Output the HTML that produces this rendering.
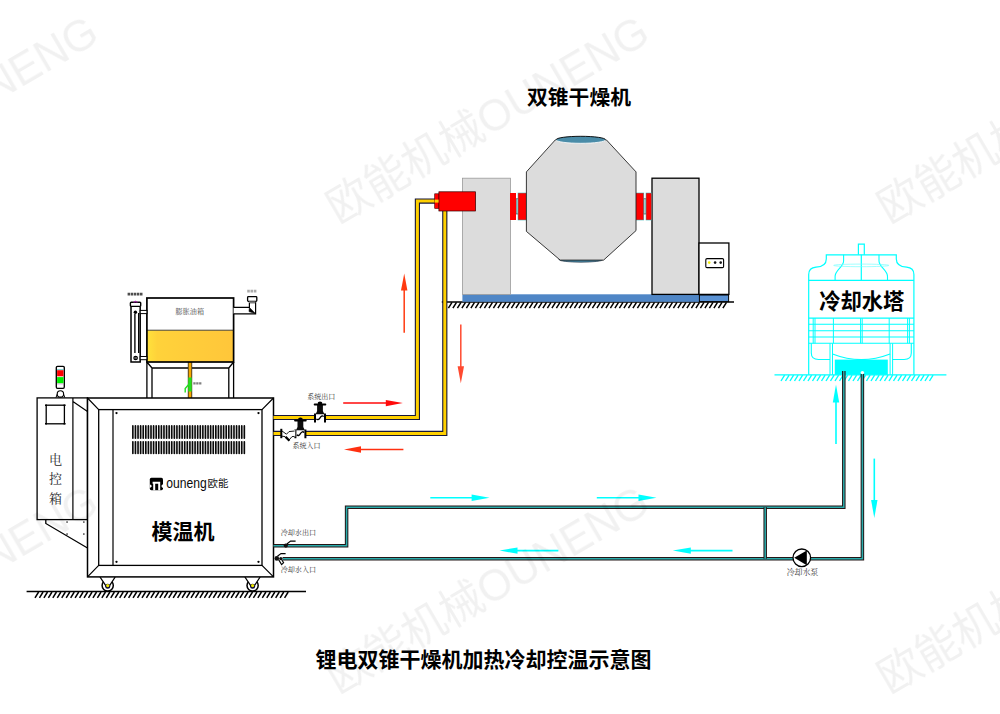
<!DOCTYPE html>
<html><head><meta charset="utf-8"><title>diagram</title>
<style>html,body{margin:0;padding:0;background:#fff;}body{width:1000px;height:714px;overflow:hidden;font-family:"Liberation Sans",sans-serif;}svg{display:block}</style>
</head><body>
<svg width="1000" height="714" viewBox="0 0 1000 714">
<defs>
<linearGradient id="oil" x1="0" y1="0" x2="1" y2="0"><stop offset="0" stop-color="#ffe23c"/><stop offset="0.12" stop-color="#ffd23a"/><stop offset="1" stop-color="#ffc63a"/></linearGradient>
</defs>
<rect width="1000" height="714" fill="#fff"/>
<path d="M26.6 591.5H306" stroke="#000" stroke-width="1.4" fill="none"/>
<path d="M38.60 592.00l-3.60 5.80M43.06 592.00l-3.60 5.80M47.51 592.00l-3.60 5.80M51.97 592.00l-3.60 5.80M56.43 592.00l-3.60 5.80M60.89 592.00l-3.60 5.80M65.34 592.00l-3.60 5.80M69.80 592.00l-3.60 5.80M74.26 592.00l-3.60 5.80M78.71 592.00l-3.60 5.80M83.17 592.00l-3.60 5.80M87.63 592.00l-3.60 5.80M92.08 592.00l-3.60 5.80M96.54 592.00l-3.60 5.80M101.00 592.00l-3.60 5.80M105.45 592.00l-3.60 5.80M109.91 592.00l-3.60 5.80M114.37 592.00l-3.60 5.80M118.83 592.00l-3.60 5.80M123.28 592.00l-3.60 5.80M127.74 592.00l-3.60 5.80M132.20 592.00l-3.60 5.80M136.65 592.00l-3.60 5.80M141.11 592.00l-3.60 5.80M145.57 592.00l-3.60 5.80M150.02 592.00l-3.60 5.80M154.48 592.00l-3.60 5.80M158.94 592.00l-3.60 5.80M163.40 592.00l-3.60 5.80M167.85 592.00l-3.60 5.80M172.31 592.00l-3.60 5.80M176.77 592.00l-3.60 5.80M181.22 592.00l-3.60 5.80M185.68 592.00l-3.60 5.80M190.14 592.00l-3.60 5.80M194.59 592.00l-3.60 5.80M199.05 592.00l-3.60 5.80M203.51 592.00l-3.60 5.80M207.97 592.00l-3.60 5.80M212.42 592.00l-3.60 5.80M216.88 592.00l-3.60 5.80M221.34 592.00l-3.60 5.80M225.79 592.00l-3.60 5.80M230.25 592.00l-3.60 5.80M234.71 592.00l-3.60 5.80M239.16 592.00l-3.60 5.80M243.62 592.00l-3.60 5.80M248.08 592.00l-3.60 5.80M252.54 592.00l-3.60 5.80M256.99 592.00l-3.60 5.80M261.45 592.00l-3.60 5.80M265.91 592.00l-3.60 5.80M270.36 592.00l-3.60 5.80M274.82 592.00l-3.60 5.80M279.28 592.00l-3.60 5.80M283.73 592.00l-3.60 5.80M288.19 592.00l-3.60 5.80" stroke="#000" stroke-width="1.5" fill="none"/>
<circle cx="107.7" cy="585.5" r="5.6" fill="#fff" stroke="#000" stroke-width="1.5"/>
<path d="M100.0 577L107.7 588.2L115.2 577Z" fill="#fff"/>
<path d="M100.0 577L107.1 587.6M115.2 577L108.3 587.6" stroke="#000" stroke-width="1.3" fill="none"/>
<circle cx="107.7" cy="586.2" r="2.5" fill="#0c0c3c"/>
<circle cx="107.7" cy="585.6" r="1.6" fill="#f0e800"/>
<circle cx="252.6" cy="585.5" r="5.6" fill="#fff" stroke="#000" stroke-width="1.5"/>
<path d="M244.9 577L252.6 588.2L260.1 577Z" fill="#fff"/>
<path d="M244.9 577L252.0 587.6M260.1 577L253.2 587.6" stroke="#000" stroke-width="1.3" fill="none"/>
<circle cx="252.6" cy="586.2" r="2.5" fill="#0c0c3c"/>
<circle cx="252.6" cy="585.6" r="1.6" fill="#f0e800"/>
<path d="M146.9 362V398M233.6 362V398M152 368V398M228.8 368V398M152 368H228.8M146.9 362L152 368M233.6 362L228.8 368" stroke="#000" stroke-width="1.3" fill="none"/>
<path d="M190 362V398" stroke="#2a2a2a" stroke-width="4.4" fill="none"/>
<path d="M190 362V398" stroke="#f5a800" stroke-width="2.8" fill="none"/>
<path d="M190 377.5V391.5" stroke="#22e022" stroke-width="3.4" fill="none"/>
<path d="M189.5 383.5L185.2 388.5V392.5" stroke="#22e022" stroke-width="1.4" fill="none"/>
<path d="M193.3 383.4H202" stroke="#555" stroke-width="2.4" stroke-dasharray="2.3 0.6" fill="none" opacity="0.75"/>
<rect x="146.9" y="298" width="86.7" height="64" fill="#fff"/>
<rect x="146.9" y="330.2" width="86.7" height="31.8" fill="url(#oil)"/>
<path d="M146.9 330.2H233.6" stroke="#333" stroke-width="0.9" fill="none"/>
<rect x="146.9" y="298" width="86.7" height="64" fill="none" stroke="#000" stroke-width="1.7"/>
<path d="M131 306.4V362H140.2V306.4" stroke="#000" stroke-width="1.5" fill="#fff"/>
<rect x="130.4" y="302.3" width="10.3" height="4.1" rx="0.8" fill="#fff" stroke="#000" stroke-width="1.4"/>
<path d="M133.6 302.2Q135.5 300.3 137.4 302.2" stroke="#a020a0" stroke-width="0.9" fill="#a020a0"/>
<path d="M134.9 314V353M138.7 313V353" stroke="#000" stroke-width="1.35" fill="none"/>
<circle cx="135.4" cy="312.2" r="1.7" fill="#000"/>
<circle cx="135.6" cy="358" r="1.7" fill="#fff" stroke="#000" stroke-width="1.3"/><circle cx="135.6" cy="358" r="0.7" fill="#000"/>
<rect x="140.2" y="310.4" width="6.7" height="3.2" fill="#fff" stroke="#000" stroke-width="1"/>
<rect x="140.2" y="356.5" width="6.7" height="3.2" fill="#fff" stroke="#000" stroke-width="1"/>
<path d="M127.6 294.1H142.8" stroke="#222" stroke-width="2.6" stroke-dasharray="2.5 0.6" fill="none" opacity="0.8"/>
<path d="M233.6 307.4H249.4V302.6H255.6V313.8H233.6" stroke="#000" stroke-width="1.2" fill="#fff"/>
<rect x="247.6" y="296.6" width="9.2" height="4.8" rx="0.8" fill="#fff" stroke="#000" stroke-width="1.3"/>
<rect x="249" y="301.4" width="6.4" height="1.4" fill="#999"/>
<path d="M249.4 307.4L255.4 313.6L249 311.6Z" fill="#000" stroke="#000" stroke-width="0.6"/>
<path d="M247.2 291.1H257" stroke="#555" stroke-width="2.6" stroke-dasharray="2.6 0.7" fill="none" opacity="0.5"/>
<rect x="37.1" y="397.9" width="50.4" height="121.7" fill="#fff" stroke="#000" stroke-width="1.3"/>
<path d="M72.9 397.9V519.6M72.9 401.6L87.5 411.5" stroke="#000" stroke-width="1.2" fill="none"/>
<rect x="46.2" y="405.2" width="18.2" height="18.6" fill="none" stroke="#000" stroke-width="1.3"/>
<path d="M45 405.2H47M63.5 405.2H65.6M45 423.8H47M63.5 423.8H65.6" stroke="#000" stroke-width="1.6" fill="none"/>
<path d="M45.8 519.6V523.5L87.5 548" stroke="#000" stroke-width="1.3" fill="none"/>
<rect x="66.4" y="521.4" width="1.3" height="1.3" fill="#000"/>
<rect x="83.2" y="521.4" width="1.3" height="1.3" fill="#000"/>
<rect x="66.4" y="533.4" width="1.3" height="1.3" fill="#000"/>
<rect x="83.2" y="533.4" width="1.3" height="1.3" fill="#000"/>
<path d="M57.6 393.2L56 397.5M63.2 393.2L64.8 397.5" stroke="#000" stroke-width="1" fill="none"/>
<circle cx="60.4" cy="393.9" r="3.2" fill="#fff" stroke="#000" stroke-width="1.1"/>
<rect x="56.3" y="366.3" width="8" height="22" rx="1.2" fill="#fff" stroke="#000" stroke-width="1.35"/>
<rect x="57.1" y="370.2" width="6.4" height="6.1" fill="#ff0000"/>
<rect x="57.1" y="377.1" width="6.4" height="6.2" fill="#00f000"/>
<path d="M57 369.6H63.6" stroke="#2aa" stroke-width="0.6" fill="none"/>
<path d="M57 384H63.6" stroke="#c6c" stroke-width="0.5" fill="none"/>
<rect x="87.5" y="398" width="186" height="178.9" fill="#fff" stroke="#000" stroke-width="1.5"/>
<rect x="98.7" y="409.6" width="163.3" height="155.8" fill="#fff" stroke="#000" stroke-width="1.3"/>
<path d="M87.5 398L98.7 409.6M273.5 398L262 409.6M87.5 576.9L98.7 565.4M273.5 576.9L262 565.4M113 409.6V565.4" stroke="#000" stroke-width="1.2" fill="none"/>
<circle cx="116.5" cy="413.1" r="1.15" fill="#000"/>
<circle cx="258.5" cy="413.1" r="1.15" fill="#000"/>
<circle cx="116.5" cy="561.8" r="1.15" fill="#000"/>
<circle cx="258.5" cy="561.8" r="1.15" fill="#000"/>
<path d="M132.85 425.9V438.2M132.85 441.7V453.4M135.44 425.9V438.2M135.44 441.7V453.4M138.04 425.9V438.2M138.04 441.7V453.4M140.63 425.9V438.2M140.63 441.7V453.4M143.22 425.9V438.2M143.22 441.7V453.4M145.82 425.9V438.2M145.82 441.7V453.4M148.41 425.9V438.2M148.41 441.7V453.4M151.00 425.9V438.2M151.00 441.7V453.4M153.59 425.9V438.2M153.59 441.7V453.4M156.19 425.9V438.2M156.19 441.7V453.4M158.78 425.9V438.2M158.78 441.7V453.4M161.37 425.9V438.2M161.37 441.7V453.4M163.97 425.9V438.2M163.97 441.7V453.4M166.56 425.9V438.2M166.56 441.7V453.4M169.15 425.9V438.2M169.15 441.7V453.4M171.75 425.9V438.2M171.75 441.7V453.4M174.34 425.9V438.2M174.34 441.7V453.4M176.93 425.9V438.2M176.93 441.7V453.4M179.52 425.9V438.2M179.52 441.7V453.4M182.12 425.9V438.2M182.12 441.7V453.4M184.71 425.9V438.2M184.71 441.7V453.4M187.30 425.9V438.2M187.30 441.7V453.4M189.90 425.9V438.2M189.90 441.7V453.4M192.49 425.9V438.2M192.49 441.7V453.4M195.08 425.9V438.2M195.08 441.7V453.4M197.68 425.9V438.2M197.68 441.7V453.4M200.27 425.9V438.2M200.27 441.7V453.4M202.86 425.9V438.2M202.86 441.7V453.4M205.45 425.9V438.2M205.45 441.7V453.4M208.05 425.9V438.2M208.05 441.7V453.4M210.64 425.9V438.2M210.64 441.7V453.4M213.23 425.9V438.2M213.23 441.7V453.4M215.83 425.9V438.2M215.83 441.7V453.4M218.42 425.9V438.2M218.42 441.7V453.4M221.01 425.9V438.2M221.01 441.7V453.4M223.61 425.9V438.2M223.61 441.7V453.4M226.20 425.9V438.2M226.20 441.7V453.4M228.79 425.9V438.2M228.79 441.7V453.4M231.38 425.9V438.2M231.38 441.7V453.4M233.98 425.9V438.2M233.98 441.7V453.4M236.57 425.9V438.2M236.57 441.7V453.4M239.16 425.9V438.2M239.16 441.7V453.4M241.76 425.9V438.2M241.76 441.7V453.4M244.35 425.9V438.2M244.35 441.7V453.4" stroke="#0a0a0a" stroke-width="1.6" stroke-linecap="round" fill="none"/>
<rect x="132" y="425.4" width="113.2" height="13.4" fill="#000" opacity="0.07"/>
<rect x="132" y="441.2" width="113.2" height="12.8" fill="#000" opacity="0.07"/>
<rect x="149.8" y="477.8" width="13.2" height="12.4" rx="1.6" fill="#000"/>
<path d="M152.6 481.8H160.2V490.2H158.2V483.8H155.2V490.2H153.2V483.8H152.6ZM149.8 484.2L151.6 485.4V486.8L149.8 488ZM163 484.2L161.6 485.2V487L163 488Z" fill="#fff"/>
<text x="166.3" y="487.7" font-size="14.5" fill="#0a0a0a" textLength="40.5" lengthAdjust="spacingAndGlyphs" style="font-family:'Liberation Sans',sans-serif;">ouneng</text>
<text x="207.6" y="487" font-size="10.4" fill="#111" style="font-family:'Liberation Sans','Noto Sans CJK SC',sans-serif;">欧能</text>
<text x="183.1" y="538.6" font-size="21" font-weight="bold" text-anchor="middle" fill="#000" style="font-family:'Liberation Sans','Noto Sans CJK SC',sans-serif;">模温机</text>
<text x="55.4" y="463.8" font-size="13" text-anchor="middle" fill="#2a2a2a" style="font-family:'Liberation Serif','Noto Serif CJK SC',serif;">电</text>
<text x="55.4" y="483.4" font-size="13" text-anchor="middle" fill="#2a2a2a" style="font-family:'Liberation Serif','Noto Serif CJK SC',serif;">控</text>
<text x="55.4" y="502.8" font-size="13" text-anchor="middle" fill="#2a2a2a" style="font-family:'Liberation Serif','Noto Serif CJK SC',serif;">箱</text>
<text x="189.8" y="314.4" font-size="7.1" text-anchor="middle" fill="#444" style="font-family:'Liberation Serif','Noto Serif CJK SC',serif;">膨胀油箱</text>
<path d="M441.8 302H734" stroke="#000" stroke-width="1.4" fill="none"/>
<path d="M452.00 302.40l-3.60 5.80M456.50 302.40l-3.60 5.80M461.00 302.40l-3.60 5.80M465.50 302.40l-3.60 5.80M470.00 302.40l-3.60 5.80M474.50 302.40l-3.60 5.80M479.00 302.40l-3.60 5.80M483.50 302.40l-3.60 5.80M488.00 302.40l-3.60 5.80M492.50 302.40l-3.60 5.80M497.00 302.40l-3.60 5.80M501.50 302.40l-3.60 5.80M506.00 302.40l-3.60 5.80M510.50 302.40l-3.60 5.80M515.00 302.40l-3.60 5.80M519.50 302.40l-3.60 5.80M524.00 302.40l-3.60 5.80M528.50 302.40l-3.60 5.80M533.00 302.40l-3.60 5.80M537.50 302.40l-3.60 5.80M542.00 302.40l-3.60 5.80M546.50 302.40l-3.60 5.80M551.00 302.40l-3.60 5.80M555.50 302.40l-3.60 5.80M560.00 302.40l-3.60 5.80M564.50 302.40l-3.60 5.80M569.00 302.40l-3.60 5.80M573.50 302.40l-3.60 5.80M578.00 302.40l-3.60 5.80M582.50 302.40l-3.60 5.80M587.00 302.40l-3.60 5.80M591.50 302.40l-3.60 5.80M596.00 302.40l-3.60 5.80M600.50 302.40l-3.60 5.80M605.00 302.40l-3.60 5.80M609.50 302.40l-3.60 5.80M614.00 302.40l-3.60 5.80M618.50 302.40l-3.60 5.80M623.00 302.40l-3.60 5.80M627.50 302.40l-3.60 5.80M632.00 302.40l-3.60 5.80M636.50 302.40l-3.60 5.80M641.00 302.40l-3.60 5.80M645.50 302.40l-3.60 5.80M650.00 302.40l-3.60 5.80M654.50 302.40l-3.60 5.80M659.00 302.40l-3.60 5.80M663.50 302.40l-3.60 5.80M668.00 302.40l-3.60 5.80M672.50 302.40l-3.60 5.80M677.00 302.40l-3.60 5.80M681.50 302.40l-3.60 5.80M686.00 302.40l-3.60 5.80M690.50 302.40l-3.60 5.80M695.00 302.40l-3.60 5.80M699.50 302.40l-3.60 5.80M704.00 302.40l-3.60 5.80M708.50 302.40l-3.60 5.80M713.00 302.40l-3.60 5.80M717.50 302.40l-3.60 5.80M722.00 302.40l-3.60 5.80M726.50 302.40l-3.60 5.80" stroke="#000" stroke-width="1.5" fill="none"/>
<path d="M273.5 417.5H417.4V201.1H436" stroke="#16163a" stroke-width="5.2" fill="none" stroke-linejoin="miter"/>
<path d="M273.5 417.5H417.4V201.1H436" stroke="#ffd000" stroke-width="3.0" fill="none" stroke-linejoin="miter"/>
<path d="M273.5 433.4H444.8V210" stroke="#16163a" stroke-width="5.2" fill="none" stroke-linejoin="miter"/>
<path d="M273.5 433.4H444.8V210" stroke="#ffd000" stroke-width="3.0" fill="none" stroke-linejoin="miter"/>
<rect x="315.0" y="414.3" width="10.0" height="6.6" fill="#fff"/>
<path d="M315.0 413.5V422.4M325.0 413.5V422.4" stroke="#000" stroke-width="2.0" fill="none"/>
<path d="M316.4 418.9C317.8 420.5 319.2 419.1 320.0 417.8S322.4 414.9 323.6 416.7" stroke="#000" stroke-width="1.3" fill="none"/>
<path d="M317.1 405.1H322.9V411.1L324.4 414.3H315.6L317.1 411.1Z" fill="#0c0c0c"/>
<rect x="313.7" y="403.6" width="12.6" height="1.9" rx="0.9" fill="#000"/>
<ellipse cx="320.0" cy="403.1" rx="2.3" ry="1.5" fill="#000"/>
<rect x="295.4" y="430.2" width="10.0" height="6.6" fill="#fff"/>
<path d="M295.4 429.4V438.3M305.4 429.4V438.3" stroke="#000" stroke-width="2.0" fill="none"/>
<path d="M296.8 434.8C298.2 436.4 299.6 435.0 300.4 433.7S302.8 430.8 304.0 432.6" stroke="#000" stroke-width="1.3" fill="none"/>
<path d="M297.5 421.0H303.3V427.0L304.8 430.2H296.0L297.5 427.0Z" fill="#0c0c0c"/>
<rect x="294.1" y="419.5" width="12.6" height="1.9" rx="0.9" fill="#000"/>
<ellipse cx="300.4" cy="419.0" rx="2.3" ry="1.5" fill="#000"/>
<rect x="281.3" y="430" width="14" height="6.8" fill="#fff"/>
<path d="M281.3 428.8V438.2" stroke="#000" stroke-width="2.0" fill="none"/>
<path d="M282 431L286.5 434.2L289 431.6L294.6 431M282 436.2L285 436.6L288.6 440.6L292 436.6L294.6 436.4" stroke="#000" stroke-width="0.9" fill="none"/>
<path d="M284.6 437.4L288.6 441.6L290.2 440L286.4 436Z" fill="#000"/>
<text x="307.3" y="398.7" font-size="7" fill="#333" style="font-family:'Liberation Serif','Noto Serif CJK SC',serif;">系统出口</text>
<text x="292.5" y="447.7" font-size="7" fill="#333" style="font-family:'Liberation Serif','Noto Serif CJK SC',serif;">系统入口</text>
<path d="M343.2 403.1L387.8 403.1" stroke="#ff0a0a" stroke-width="1.5" fill="none"/>
<path d="M402.8 403.1L385.8 406.3L385.8 399.9Z" fill="#ff0a0a"/>
<path d="M403.4 449.5L359.0 449.5" stroke="#ff3010" stroke-width="1.5" fill="none"/>
<path d="M344.0 449.5L361.0 446.3L361.0 452.7Z" fill="#ff3010"/>
<path d="M404.2 332.8L404.2 288.4" stroke="#ff3a10" stroke-width="1.5" fill="none"/>
<path d="M404.2 273.4L407.4 290.4L401.0 290.4Z" fill="#ff3a10"/>
<path d="M460.8 324.4L460.8 368.2" stroke="#ff4a30" stroke-width="1.5" fill="none"/>
<path d="M460.8 383.2L457.6 366.2L464.0 366.2Z" fill="#ff4a30"/>
<rect x="462.4" y="294.3" width="236.6" height="7.5" fill="#4f86c6"/>
<rect x="699.4" y="295" width="29.2" height="6.6" fill="#5a92d4" stroke="#000" stroke-width="1"/>
<rect x="462.4" y="178.2" width="48" height="116.2" fill="#dcdcdc" stroke="#9a9a9a" stroke-width="0.8"/>
<rect x="652" y="178.2" width="47" height="116.2" fill="#dcdcdc" stroke="#000" stroke-width="1.3"/>
<rect x="699" y="243" width="29.9" height="51.4" fill="#fff" stroke="#000" stroke-width="1.3"/>
<rect x="705.8" y="258.6" width="17.8" height="9" rx="1.2" fill="#fff" stroke="#000" stroke-width="1.1"/>
<circle cx="709.2" cy="262.6" r="1.3" fill="#f2ee00"/>
<circle cx="715.1" cy="262.6" r="1.3" fill="#111"/>
<circle cx="720.7" cy="262.6" r="1.3" fill="#111"/>
<rect x="516" y="198.8" width="2.4" height="15.2" fill="#a8d0d0" stroke="#333" stroke-width="0.6"/>
<rect x="510" y="193" width="6" height="27" fill="#ff0000"/>
<rect x="518" y="193" width="8.6" height="27" fill="#ff0000" stroke="#2aa" stroke-width="0.5"/>
<rect x="643.6" y="198.8" width="2.6" height="15.2" fill="#a8d0d0" stroke="#333" stroke-width="0.6"/>
<rect x="635.6" y="193" width="8.2" height="27" fill="#ff0000" stroke="#2aa" stroke-width="0.5"/>
<rect x="646" y="193" width="5.8" height="27" fill="#ff0000" stroke="#2aa" stroke-width="0.5"/>
<ellipse cx="581" cy="259.6" rx="22" ry="2.6" fill="#4a8aa6" stroke="#123" stroke-width="0.6"/>
<path d="M555.3 139.9H606.4L636 171.9V230.6L603.6 260.1H560.2L526.4 231.4V171.9Z" fill="#dcdcdc" stroke="#222" stroke-width="0.9"/>
<ellipse cx="580.8" cy="139.8" rx="24.8" ry="3.5" fill="#4a8ca8"/>
<path d="M556 139.8A24.8 3.5 0 0 1 605.6 139.8" stroke="#000" stroke-width="0.9" fill="none"/>
<path d="M556 139.8A24.8 3.5 0 0 0 605.6 139.8" stroke="#fff" stroke-width="0.8" fill="none"/>
<rect x="434.7" y="193.8" width="4.4" height="14.7" fill="#ff0000" stroke="#400" stroke-width="0.6"/>
<rect x="438.9" y="191.8" width="36.7" height="19.2" fill="#ff0000" stroke="#300" stroke-width="0.7"/>
<path d="M434.6 201.1H438.6" stroke="#ffd000" stroke-width="3" fill="none"/>
<text x="579" y="105.4" font-size="20.8" font-weight="bold" text-anchor="middle" fill="#000" style="font-family:'Liberation Sans','Noto Sans CJK SC',sans-serif;">双锥干燥机</text>
<path d="M774.5 374.8H946.4" stroke="#00ffff" stroke-width="1.3" fill="none"/>
<path d="M784.60 375.20l-3.60 5.80M789.10 375.20l-3.60 5.80M793.60 375.20l-3.60 5.80M798.10 375.20l-3.60 5.80M802.60 375.20l-3.60 5.80M807.10 375.20l-3.60 5.80M811.60 375.20l-3.60 5.80M816.10 375.20l-3.60 5.80M820.60 375.20l-3.60 5.80M825.10 375.20l-3.60 5.80M829.60 375.20l-3.60 5.80M834.10 375.20l-3.60 5.80M838.60 375.20l-3.60 5.80M843.10 375.20l-3.60 5.80M847.60 375.20l-3.60 5.80M852.10 375.20l-3.60 5.80M856.60 375.20l-3.60 5.80M861.10 375.20l-3.60 5.80M865.60 375.20l-3.60 5.80M870.10 375.20l-3.60 5.80M874.60 375.20l-3.60 5.80M879.10 375.20l-3.60 5.80M883.60 375.20l-3.60 5.80M888.10 375.20l-3.60 5.80M892.60 375.20l-3.60 5.80M897.10 375.20l-3.60 5.80M901.60 375.20l-3.60 5.80M906.10 375.20l-3.60 5.80M910.60 375.20l-3.60 5.80M915.10 375.20l-3.60 5.80M919.60 375.20l-3.60 5.80M924.10 375.20l-3.60 5.80M928.60 375.20l-3.60 5.80M933.10 375.20l-3.60 5.80" stroke="#00ffff" stroke-width="1.4" fill="none"/>
<path d="M808.7 374.8V274.5C808.7 270 812 267.6 816 267.2C822 266.8 826.3 264 826.3 259V254.8H896.3V259C896.3 264 900.6 266.8 906.6 267.2C910.6 267.6 913.9 270 913.9 274.5V374.8" stroke="#00ffff" stroke-width="1.2" fill="none"/>
<path d="M808.7 280.4H913.9" stroke="#00ffff" stroke-width="1.3" fill="none"/>
<path d="M858.4 254.8V244.2H864.3V254.8M861.3 254.8V280.4" stroke="#00ffff" stroke-width="1.2" fill="none"/>
<path d="M843.6 254.8V261C843.6 267 835.1 270 835.1 276.5V280.4M879.0 254.8V261C879.0 267 887.5 270 887.5 276.5V280.4" stroke="#00ffff" stroke-width="1.1" fill="none"/>
<ellipse cx="861.3" cy="265.4" rx="27.6" ry="1.3" fill="none" stroke="#7ff" stroke-width="0.7"/>
<path d="M808.7 318.1H913.9M808.7 324.2H913.9M808.7 330.7H913.9M808.7 337H913.9M808.7 343.3H913.9" stroke="#00ffff" stroke-width="1.1" fill="none"/>
<path d="M813.2 318.1V343.3M909.4 318.1V343.3M833.4 318.1V343.3M889.2 318.1V343.3M860.6 318.1V343.3M862.2 318.1V343.3M815 318.1V343.3M907.6 318.1V343.3" stroke="#00ffff" stroke-width="1.0" fill="none"/>
<path d="M811.3 343.3V353C811.3 357.2 814 359.5 818.5 359.5H830M911.3 343.3V353C911.3 357.2 908.6 359.5 904.1 359.5H892.6" stroke="#00ffff" stroke-width="1.1" fill="none"/>
<path d="M830 343.3V374.8M832.5 343.3V374.8M892.6 343.3V374.8M890.1 343.3V374.8" stroke="#00ffff" stroke-width="1.0" fill="none"/>
<rect x="834.8" y="359.6" width="53" height="15.2" fill="#00ffff"/>
<path d="M832.5 354Q861.3 365.2 890.1 354" stroke="#00ffff" stroke-width="1.2" fill="none"/>
<text x="861.8" y="309" font-size="21.3" font-weight="bold" text-anchor="middle" fill="#000" style="font-family:'Liberation Sans','Noto Sans CJK SC',sans-serif;">冷却水塔</text>
<path d="M273.5 545.8H346.6V507.2H843.8V371" stroke="#241616" stroke-width="3.5" fill="none" stroke-linejoin="miter"/>
<path d="M273.5 545.8H346.6V507.2H843.8V371" stroke="#2aacac" stroke-width="1.5" fill="none" stroke-linejoin="miter"/>
<path d="M282.6 558.7H862.4V374" stroke="#241616" stroke-width="3.5" fill="none" stroke-linejoin="miter"/>
<path d="M282.6 558.7H862.4V374" stroke="#2aacac" stroke-width="1.5" fill="none" stroke-linejoin="miter"/>
<path d="M765.2 507.2V558.7" stroke="#241616" stroke-width="3.5" fill="none" stroke-linejoin="miter"/>
<path d="M765.2 507.2V558.7" stroke="#2aacac" stroke-width="1.5" fill="none" stroke-linejoin="miter"/>
<circle cx="862.4" cy="372.6" r="1.7" fill="#fff"/>
<circle cx="801.8" cy="557.8" r="8.8" fill="#fff" stroke="#000" stroke-width="1.3"/>
<path d="M794.2 557.8L806.8 550.4V565.2Z" fill="#000"/>
<text x="786.7" y="575.2" font-size="7.9" fill="#333" style="font-family:'Liberation Serif','Noto Serif CJK SC',serif;">冷却水泵</text>
<circle cx="285.8" cy="545.6" r="2.1" fill="#111"/>
<path d="M286.8 544L290.6 541.1H295.6" stroke="#000" stroke-width="1.1" fill="none"/>
<circle cx="276.8" cy="558.4" r="2.3" fill="#111"/>
<path d="M277.4 556.2L281 553.6H285.6M278.6 559.6L281.6 564.6L283.6 562.6L281.4 559.2" stroke="#000" stroke-width="1.1" fill="none"/>
<circle cx="280.8" cy="558.6" r="1.6" fill="#111"/>
<text x="280.7" y="535.3" font-size="7.1" fill="#333" style="font-family:'Liberation Serif','Noto Serif CJK SC',serif;">冷却水出口</text>
<text x="280.7" y="572.3" font-size="7.1" fill="#333" style="font-family:'Liberation Serif','Noto Serif CJK SC',serif;">冷却水入口</text>
<path d="M430.3 497.7L473.6 497.7" stroke="#00ffff" stroke-width="1.6" fill="none"/>
<path d="M489.6 497.7L471.6 500.9L471.6 494.5Z" fill="#00ffff"/>
<path d="M596.8 497.7L640.5 497.7" stroke="#00ffff" stroke-width="1.6" fill="none"/>
<path d="M656.5 497.7L638.5 500.9L638.5 494.5Z" fill="#00ffff"/>
<path d="M558.4 550.6L515.5 550.6" stroke="#00ffff" stroke-width="1.6" fill="none"/>
<path d="M499.5 550.6L517.5 547.4L517.5 553.8Z" fill="#00ffff"/>
<path d="M732.5 550.6L688.8 550.6" stroke="#00ffff" stroke-width="1.6" fill="none"/>
<path d="M672.8 550.6L690.8 547.4L690.8 553.8Z" fill="#00ffff"/>
<path d="M836.0 444.0L836.0 400.5" stroke="#00ffff" stroke-width="1.6" fill="none"/>
<path d="M836.0 384.5L839.2 402.5L832.8 402.5Z" fill="#00ffff"/>
<path d="M874.3 458.6L874.3 502.0" stroke="#00ffff" stroke-width="1.6" fill="none"/>
<path d="M874.3 518.0L871.1 500.0L877.5 500.0Z" fill="#00ffff"/>
<text x="483.5" y="667" font-size="21" font-weight="bold" text-anchor="middle" fill="#000" style="font-family:'Liberation Sans','Noto Sans CJK SC',sans-serif;">锂电双锥干燥机加热冷却控温示意图</text>
<g fill="#000" opacity="0.058" font-size="44" style="font-family:'Liberation Sans','Noto Sans CJK SC',sans-serif;">
<text transform="translate(-213.7 224.7) rotate(-30.3)" x="1" y="0" textLength="364" lengthAdjust="spacingAndGlyphs">欧能机械OUNENG</text>
<text transform="translate(-213.7 694.7) rotate(-30.3)" x="1" y="0" textLength="364" lengthAdjust="spacingAndGlyphs">欧能机械OUNENG</text>
<text transform="translate(337.3 224.7) rotate(-30.3)" x="1" y="0" textLength="364" lengthAdjust="spacingAndGlyphs">欧能机械OUNENG</text>
<text transform="translate(337.3 694.7) rotate(-30.3)" x="1" y="0" textLength="364" lengthAdjust="spacingAndGlyphs">欧能机械OUNENG</text>
<text transform="translate(888.3 224.7) rotate(-30.3)" x="1" y="0" textLength="364" lengthAdjust="spacingAndGlyphs">欧能机械OUNENG</text>
<text transform="translate(888.3 694.7) rotate(-30.3)" x="1" y="0" textLength="364" lengthAdjust="spacingAndGlyphs">欧能机械OUNENG</text>
</g>
</svg></body></html>
